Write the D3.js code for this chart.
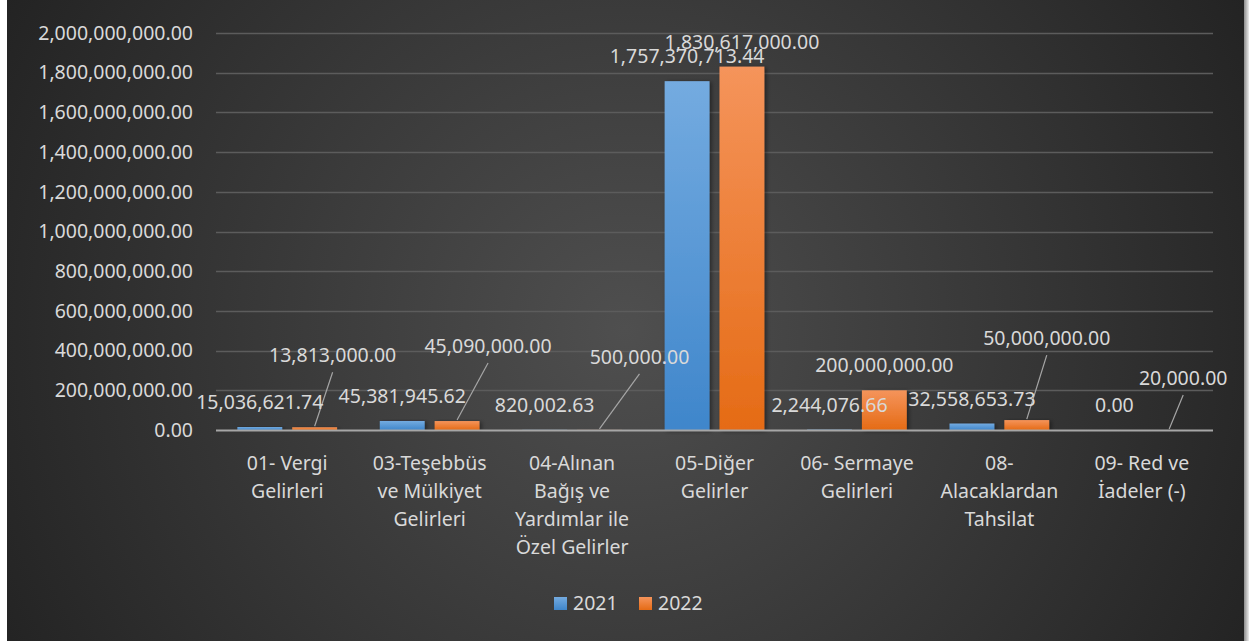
<!DOCTYPE html>
<html>
<head>
<meta charset="utf-8">
<script src="https://cdn.jsdelivr.net/npm/d3@7"></script>
<style>
  html, body { margin: 0; padding: 0; background: #fff; }
  svg text { font-family: "Noto Sans", "Open Sans", sans-serif; fill: #d9d9d9; }
</style>
</head>
<body>
<svg id="chart" width="1249" height="641"></svg>
<script>
// Categories (line breaks as in the chart)
var categories = [
  '01- Vergi\nGelirleri',
  '03-Teşebbüs\nve Mülkiyet\nGelirleri',
  '04-Alınan\nBağış ve\nYardımlar ile\nÖzel Gelirler',
  '05-Diğer\nGelirler',
  '06- Sermaye\nGelirleri',
  '08-\nAlacaklardan\nTahsilat',
  '09- Red ve\nİadeler (-)'
];

// Series
var seriesNames = ['2021', '2022'];
var values2021 = [15036621.74, 45381945.62, 820002.63, 1757370713.44, 2244076.66, 32558653.73, 0.00];
var values2022 = [13813000.00, 45090000.00, 500000.00, 1830617000.00, 200000000.00, 50000000.00, 20000.00];

// Y axis ticks
var yTicks = [0, 200000000, 400000000, 600000000, 800000000, 1000000000,
              1200000000, 1400000000, 1600000000, 1800000000, 2000000000];

// labels that were dragged away from their bars (2022 series), [dx, dy]
var moved2022 = [[18, -47], [31, -50], [40, -48], null, null, [20, -57], [14, -27]];

var svg = d3.select('#chart');
var W = 1249, H = 641;
var plotLeft = 216, plotRight = 1213, plotTop = 33, plotBottom = 430;

var defs = svg.append('defs');

// background gradient
var bg = defs.append('radialGradient').attr('id', 'bg')
  .attr('gradientUnits', 'userSpaceOnUse')
  .attr('cx', 625).attr('cy', 330).attr('r', 720);
bg.append('stop').attr('offset', 0).attr('stop-color', '#4f4f4f');
bg.append('stop').attr('offset', 1).attr('stop-color', '#222222');

var edge = defs.append('linearGradient').attr('id', 'edge');
edge.append('stop').attr('offset', 0).attr('stop-color', '#8c8c8c');
edge.append('stop').attr('offset', 1).attr('stop-color', '#ececec');

var colors = {
  '2021': ['#74abe0', '#3f86cb'],
  '2022': ['#f5945b', '#e56b15']
};
seriesNames.forEach(function(s) {
  var g = defs.append('linearGradient').attr('id', 'g' + s)
    .attr('x1', 0).attr('y1', 0).attr('x2', 0).attr('y2', 1);
  g.append('stop').attr('offset', 0).attr('stop-color', colors[s][0]);
  g.append('stop').attr('offset', 1).attr('stop-color', colors[s][1]);
});

defs.append('filter').attr('id', 'shadow')
  .attr('x', '-20%').attr('y', '-20%').attr('width', '140%').attr('height', '140%')
  .append('feDropShadow')
  .attr('dx', 2).attr('dy', 1).attr('stdDeviation', 2)
  .attr('flood-color', '#000').attr('flood-opacity', 0.45);

svg.append('rect').attr('x', 7).attr('y', 0).attr('width', 1237).attr('height', H)
  .attr('fill', 'url(#bg)');
svg.append('rect').attr('x', 1244).attr('y', 0).attr('width', 5).attr('height', H)
  .attr('fill', 'url(#edge)');

// scales
var x0 = d3.scaleBand().domain(d3.range(categories.length))
  .range([plotLeft, plotRight]).paddingInner(0.3).paddingOuter(0.15);
var x1 = d3.scaleBand().domain(seriesNames)
  .range([0, x0.bandwidth()]).paddingInner(0.1818);
var y = d3.scaleLinear().domain([0, 2000000000]).range([plotBottom, plotTop]);

// gridlines
svg.append('g').selectAll('line')
  .data(yTicks.slice(1))
  .enter().append('line')
  .attr('x1', plotLeft).attr('x2', plotRight)
  .attr('y1', function(d) { return Math.round(y(d)) + 0.5; })
  .attr('y2', function(d) { return Math.round(y(d)) + 0.5; })
  .attr('stroke', '#5c5c5c').attr('stroke-width', 1.5);

// y axis
var yAxis = svg.append('g')
  .attr('transform', 'translate(' + plotLeft + ',0)')
  .call(d3.axisLeft(y).tickValues(yTicks).tickFormat(d3.format(',.2f'))
    .tickSize(0).tickPadding(23));
yAxis.select('.domain').remove();
yAxis.selectAll('text').style('font-size', '19.5px')
  .style('font-family', '"Noto Sans", sans-serif').attr('fill', '#d9d9d9');

// bars
var rows = categories.map(function(c, i) {
  return {i: i, vals: [
    {s: '2021', v: values2021[i], i: i},
    {s: '2022', v: values2022[i], i: i}
  ]};
});

var groups = svg.append('g').selectAll('g')
  .data(rows).enter().append('g')
  .attr('transform', function(d) { return 'translate(' + x0(d.i) + ',0)'; });

groups.selectAll('rect')
  .data(function(d) { return d.vals; })
  .enter().append('rect')
  .attr('x', function(d) { return x1(d.s); })
  .attr('width', x1.bandwidth())
  .attr('y', function(d) { return y(d.v); })
  .attr('height', function(d) { return y(0) - y(d.v); })
  .attr('fill', function(d) { return 'url(#g' + d.s + ')'; })
  .attr('filter', 'url(#shadow)');

// zero line
svg.append('line')
  .attr('x1', plotLeft).attr('x2', plotRight)
  .attr('y1', y(0) + 0.5).attr('y2', y(0) + 0.5)
  .attr('stroke', '#a6a6a6').attr('stroke-width', 2);

// data labels
var fmt = d3.format(',.2f');
var labels = [];
rows.forEach(function(r) {
  r.vals.forEach(function(d) {
    var cx = x0(r.i) + x1(d.s) + x1.bandwidth() / 2;
    var ty = y(d.v);
    var shift = d.s === '2022' ? moved2022[r.i] : null;
    labels.push({
      text: fmt(d.v), bx: cx, by: ty,
      lx: cx + (shift ? shift[0] : 0),
      ly: ty - 18 + (shift ? shift[1] : 0),
      leader: !!shift
    });
  });
});

svg.append('g').selectAll('line')
  .data(labels.filter(function(d) { return d.leader; }))
  .enter().append('line')
  .attr('x1', function(d) { return d.lx; })
  .attr('y1', function(d) { return d.ly + 10; })
  .attr('x2', function(d) { return d.bx; })
  .attr('y2', function(d) { return d.by - 1; })
  .attr('stroke', '#a6a6a6').attr('stroke-width', 1.2);

svg.append('g').selectAll('text')
  .data(labels).enter().append('text')
  .attr('x', function(d) { return d.lx; })
  .attr('y', function(d) { return d.ly; })
  .attr('text-anchor', 'middle')
  .style('font-size', '19.5px')
  .text(function(d) { return d.text; });

// category labels
var xAxis = svg.append('g')
  .attr('transform', 'translate(0,' + plotBottom + ')')
  .call(d3.axisBottom(x0).tickFormat(function(i) { return categories[i]; })
    .tickSize(0).tickPadding(0));
xAxis.select('.domain').remove();
xAxis.selectAll('text').each(function(d) {
  var t = d3.select(this);
  var lines = categories[d].split('\n');
  t.text(null).attr('y', 0).attr('dy', null)
    .style('font-size', '19.5px')
    .style('font-family', '"Noto Sans", sans-serif')
    .attr('fill', '#d9d9d9');
  lines.forEach(function(l, k) {
    t.append('tspan').attr('x', 0).attr('y', 40 + k * 28).text(l);
  });
});

// legend
var legend = svg.append('g').selectAll('g')
  .data(seriesNames).enter().append('g')
  .attr('transform', function(d, i) { return 'translate(' + (554 + i * 85) + ',597)'; });
legend.append('rect').attr('width', 13).attr('height', 13)
  .attr('fill', function(d) { return 'url(#g' + d + ')'; });
legend.append('text').attr('x', 19).attr('y', 13)
  .style('font-size', '19.5px')
  .text(function(d) { return d; });
</script>
</body>
</html>
